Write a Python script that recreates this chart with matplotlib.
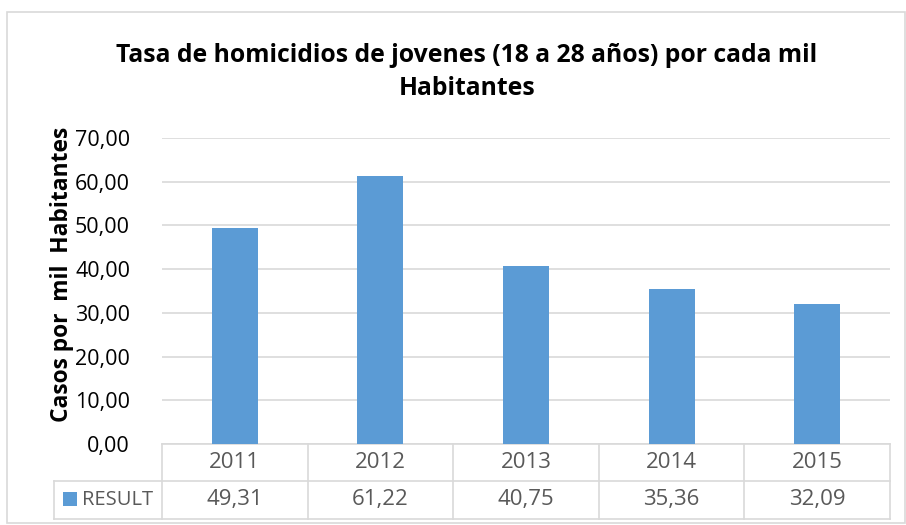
#!/usr/bin/env python3
"""Tasa de homicidios de jovenes - barras con tabla de datos estilo Excel"""

import matplotlib
matplotlib.use("Agg")
import matplotlib.pyplot as plt
import matplotlib.patches as mpatches
from matplotlib.lines import Line2D

YEARS = ["2011", "2012", "2013", "2014", "2015"]
RESULT = [49.31, 61.22, 40.75, 35.36, 32.09]
SERIES_NAME = "RESULT"
Y_TICKS = [0, 10, 20, 30, 40, 50, 60, 70]

TITLE = "Tasa de homicidios de jovenes (18 a 28 años) por cada mil\nHabitantes"
Y_LABEL = "Casos por  mil  Habitantes"

W, H = 906, 525
BAR = "#5b9bd5"
GRID = "#d9d9d9"
TEXT = "#595959"
FONT = ["Open Sans", "DejaVu Sans"]


def coma(v):
    return f"{v:.2f}".replace(".", ",")


def fx(px):
    return px / W


def fy(py):
    return 1 - py / H


def main():
    plt.rcParams["font.family"] = FONT
    fig = plt.figure(figsize=(W / 100, H / 100), dpi=100)
    fig.patch.set_facecolor("white")

    # marco del grafico
    fig.add_artist(mpatches.Rectangle(
        (fx(7), fy(523)), fx(905) - fx(7), fy(12) - fy(523),
        transform=fig.transFigure, facecolor="none", edgecolor=GRID, linewidth=1.2))

    left, right, top, bottom = 162, 890, 138, 444
    ax = fig.add_axes([fx(left), fy(bottom), fx(right) - fx(left), fy(top) - fy(bottom)])
    x = range(len(YEARS))
    ax.bar(x, RESULT, width=0.315, color=BAR, zorder=3)
    ax.set_xlim(-0.5, len(YEARS) - 0.5)
    ax.set_ylim(0, 70)
    ax.set_yticks(Y_TICKS)
    ax.set_yticklabels([coma(v) for v in Y_TICKS], fontsize=15.5, color="black")
    ax.tick_params(axis="y", length=0, pad=23)
    ax.set_xticks([])
    ax.grid(axis="y", color=GRID, linewidth=1.2, zorder=0)
    for s in ["top", "right", "left"]:
        ax.spines[s].set_visible(False)
    ax.spines["bottom"].set_color(GRID)
    ax.spines["bottom"].set_linewidth(1.2)

    fig.text(fx(467), fy(72), TITLE, ha="center", va="center", fontsize=17.8,
             fontweight="bold", linespacing=1.4)
    fig.text(fx(62), fy(274), Y_LABEL, ha="center", va="center", rotation=90,
             fontsize=16.4, fontweight="bold")

    # tabla de datos
    row1, row2, row3 = 444, 481, 519
    tab_left = 54
    step = (right - left) / len(YEARS)
    lines = [
        ((tab_left, right), (row2, row2)),
        ((tab_left, right), (row3, row3)),
        ((tab_left, tab_left), (row2, row3)),
    ]
    for i in range(len(YEARS) + 1):
        lines.append(((left + i * step, left + i * step), (row1, row3)))
    for xs, ys in lines:
        fig.add_artist(Line2D([fx(xs[0]), fx(xs[1])], [fy(ys[0]), fy(ys[1])],
                              transform=fig.transFigure, color=GRID, linewidth=1.2))

    for i, (yr, v) in enumerate(zip(YEARS, RESULT)):
        cx = left + (i + 0.5) * step
        fig.text(fx(cx), fy((row1 + row2) / 2), yr, ha="center", va="center",
                 fontsize=16, color=TEXT)
        fig.text(fx(cx), fy((row2 + row3) / 2), coma(v), ha="center", va="center",
                 fontsize=16, color=TEXT)

    fig.add_artist(mpatches.Rectangle(
        (fx(63), fy(506)), fx(14), fy(492) - fy(506),
        transform=fig.transFigure, facecolor=BAR, edgecolor="none"))
    fig.text(fx(82), fy((row2 + row3) / 2), SERIES_NAME, ha="left", va="center",
             fontsize=14.5, color=TEXT)

    fig.savefig("out.png", dpi=100, facecolor="white")
    plt.close(fig)


if __name__ == "__main__":
    main()
